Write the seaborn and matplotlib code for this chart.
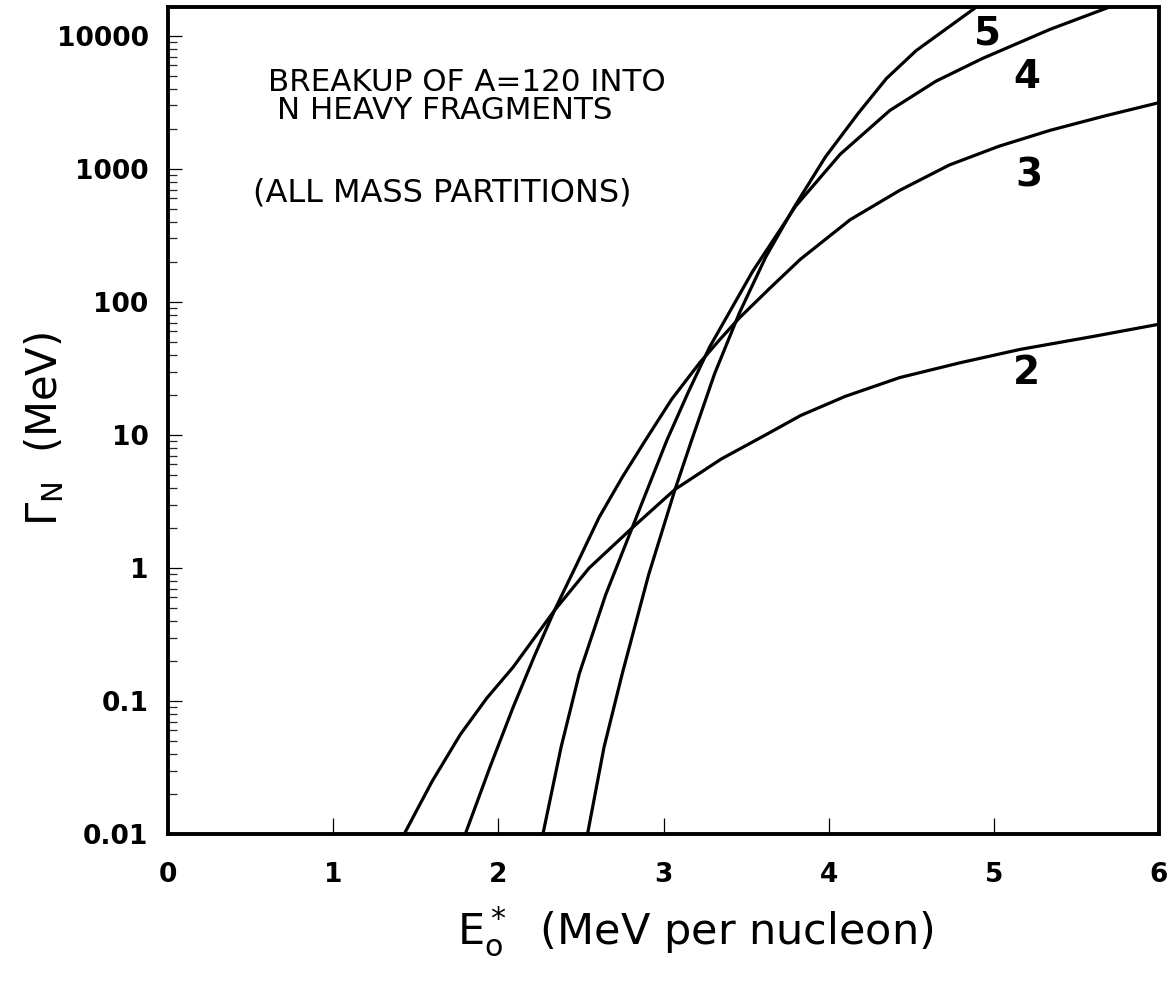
import numpy as np
import pandas as pd
import matplotlib
matplotlib.use("Agg")
import matplotlib.pyplot as plt
import seaborn as sns

# ---- data (E* in MeV/nucleon, Gamma_N in MeV) ----
n2_x = [1.43, 1.60, 1.77, 1.93, 2.09, 2.34, 2.55, 2.81, 3.07, 3.35, 3.63, 3.83,
        4.10, 4.43, 4.80, 5.16, 5.60, 6.00]
n2_y = [0.01, 0.025, 0.056, 0.105, 0.18, 0.48, 1.0, 2.0, 3.9, 6.6, 10.2, 14,
        19.5, 27, 35, 44, 55, 68]

n3_x = [1.80, 1.95, 2.09, 2.22, 2.34, 2.48, 2.61, 2.75, 2.89, 3.05, 3.22, 3.34,
        3.46, 3.65, 3.83, 4.13, 4.43, 4.73, 5.03, 5.34, 5.67, 6.00]
n3_y = [0.01, 0.032, 0.09, 0.22, 0.48, 1.1, 2.4, 4.8, 9.1, 18.6, 35, 52,
        76, 129, 210, 415, 690, 1070, 1480, 1950, 2500, 3150]

n4_x = [2.27, 2.38, 2.49, 2.65, 2.81, 3.02, 3.15, 3.28, 3.54, 3.80, 4.07, 4.37,
        4.65, 4.93, 5.34, 5.75]
n4_y = [0.01, 0.045, 0.16, 0.63, 2.0, 9.1, 21, 46, 170, 525, 1290, 2750,
        4570, 6760, 11200, 17400]

n5_x = [2.54, 2.64, 2.75, 2.91, 3.07, 3.17, 3.31, 3.46, 3.62, 3.79, 3.98, 4.18,
        4.35, 4.53, 4.72, 4.92]
n5_y = [0.01, 0.045, 0.16, 0.89, 3.9, 9.1, 29, 83, 219, 513, 1230, 2630,
        4790, 7760, 11500, 17400]

curve_names = ["2", "3", "4", "5"]
label_x = [5.20, 5.21, 5.20, 4.96]
label_y = [29, 900, 4900, 10500]

x_ticks = [0, 1, 2, 3, 4, 5, 6]
y_ticks = [0.01, 0.1, 1, 10, 100, 1000, 10000]
y_tick_labels = ["0.01", "0.1", "1", "10", "100", "1000", "10000"]

note_lines = ["BREAKUP OF A=120 INTO", "N HEAVY FRAGMENTS", "(ALL MASS PARTITIONS)"]

# ---- long-form table for seaborn ----
frames = []
for name, xs, ys in zip(curve_names, [n2_x, n3_x, n4_x, n5_x], [n2_y, n3_y, n4_y, n5_y]):
    frames.append(pd.DataFrame({"E": xs, "G": ys, "N": name}))
df = pd.concat(frames, ignore_index=True)

sns.set_style("white")
plt.rcParams["font.family"] = ["DejaVu Sans"]
plt.rcParams["mathtext.fontset"] = "dejavusans"

fig = plt.figure(figsize=(11.71, 9.81), dpi=100)
ax = fig.add_axes([168 / 1171, 1 - 834 / 981, (1159 - 168) / 1171, (834 - 7) / 981])

sns.lineplot(data=df, x="E", y="G", hue="N", units="N", estimator=None, sort=False,
             palette=["black"] * 4, linewidth=2.3, legend=False, ax=ax)
for ln in ax.get_lines():
    ln.set_solid_joinstyle("round")

ax.set_yscale("log")
ax.set_xlim(0, 6)
ax.set_ylim(0.01, 16500)

ax.set_xticks(x_ticks)
ax.set_xticklabels([str(t) for t in x_ticks])
ax.set_yticks(y_ticks)
ax.set_yticklabels(y_tick_labels)
ax.yaxis.set_minor_locator(matplotlib.ticker.LogLocator(base=10, subs=np.arange(2, 10)))
ax.yaxis.set_minor_formatter(matplotlib.ticker.NullFormatter())

ax.tick_params(axis="x", which="major", direction="in", length=11.5, width=0.9,
               pad=20, labelsize=19, colors="black", bottom=True, top=False)
ax.tick_params(axis="y", which="major", direction="in", length=10, width=0.9,
               pad=14, labelsize=19, colors="black", left=True, right=False)
ax.tick_params(axis="y", which="minor", direction="in", length=6.5, width=0.9,
               left=True, right=False)
for lab in ax.get_xticklabels() + ax.get_yticklabels():
    lab.set_fontweight("bold")

for s in ax.spines.values():
    s.set_linewidth(2.8)
    s.set_color("black")
    s.set_visible(True)

ax.set_xlabel(r"$\mathregular{E_o^*}$  (MeV per nucleon)", fontsize=31, color="black")
ax.set_ylabel(r"$\mathregular{\Gamma_N}$  (MeV)", fontsize=30, color="black")
ax.xaxis.set_label_coords(0.532, -0.085)
ax.xaxis.label.set_va("top")
ax.yaxis.set_label_coords(-0.125, 0.49)
ax.yaxis.label.set_va("center")

for name, lx, ly in zip(curve_names, label_x, label_y):
    ax.text(lx, ly, name, fontsize=28, fontweight="bold", ha="center", va="center", color="black")

ax.text(0.101, 0.909, note_lines[0], transform=ax.transAxes, fontsize=22.3,
        ha="left", va="center", color="black")
ax.text(0.110, 0.875, note_lines[1], transform=ax.transAxes, fontsize=22.3,
        ha="left", va="center", color="black")
ax.text(0.086, 0.775, note_lines[2], transform=ax.transAxes, fontsize=23,
        ha="left", va="center", color="black")

fig.savefig("out.png", dpi=100, facecolor="white")
